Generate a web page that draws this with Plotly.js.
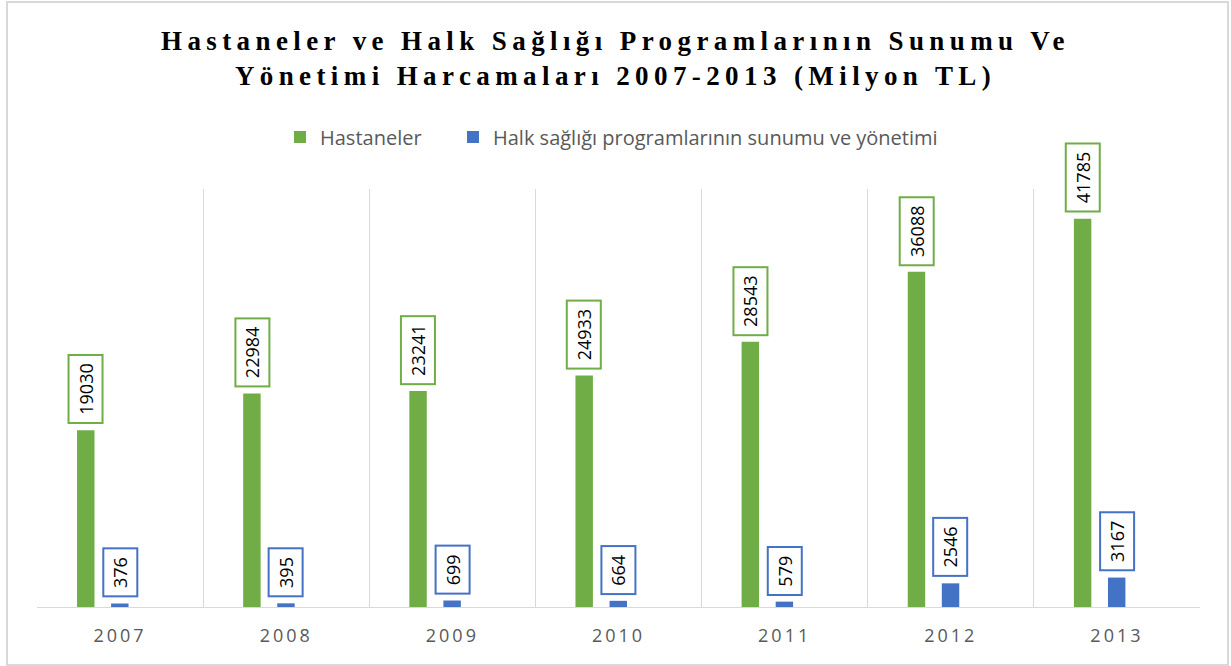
<!DOCTYPE html>
<html>
<head>
<meta charset="utf-8">
<script src="https://cdn.plot.ly/plotly-3.0.1.min.js"></script>
<style>
  html, body { margin: 0; padding: 0; background: #ffffff; }
  #wrap { position: relative; width: 1231px; height: 666px; overflow: hidden; }
  #chart { position: absolute; left: 0; top: 0; width: 1231px; height: 666px; }
  #frame { position: absolute; left: 6px; top: 1px; width: 1219px; height: 661px;
           border: 2px solid #d9d9d9; pointer-events: none; }
  .gtitle { letter-spacing: 5.4px; }
  .xtick text { letter-spacing: 3px; }
</style>
</head>
<body>
<div id="wrap">
  <div id="chart"></div>
  <div id="frame"></div>
</div>
<script>
// ---- data ----
const years = ['2007', '2008', '2009', '2010', '2011', '2012', '2013'];
const hastaneler = [19030, 22984, 23241, 24933, 28543, 36088, 41785];
const halkSagligi = [376, 395, 699, 664, 579, 2546, 3167];
const seriesNames = ['Hastaneler', 'Halk sağlığı programlarının sunumu ve yönetimi'];
const titleText = 'Hastaneler ve Halk Sağlığı Programlarının Sunumu Ve<br>Yönetimi Harcamaları 2007-2013 (Milyon TL)';

// ---- style ----
const GREEN = '#70AD47';
const BLUE = '#4472C4';
const BAR_W = 0.105;
const OFF_GREEN = -0.259;
const OFF_BLUE = -0.054;
const LABEL_FONT = { family: 'Open Sans, sans-serif', size: 18, color: '#000000' };
const LEGEND_FONT = { family: 'Open Sans, sans-serif', size: 20, color: '#595959' };

const traces = [
  { type: 'bar', name: seriesNames[0], x: years, y: hastaneler, legend: 'legend',
    marker: { color: GREEN }, width: BAR_W, offset: OFF_GREEN, hoverinfo: 'x+y' },
  { type: 'bar', name: seriesNames[1], x: years, y: halkSagligi, legend: 'legend2',
    marker: { color: BLUE }, width: BAR_W, offset: OFF_BLUE, hoverinfo: 'x+y' }
];

function labelAnnotations(values, offset, color) {
  return values.map((v, i) => {
    const txt = String(v);
    return {
      x: i + offset + BAR_W / 2, y: v, xref: 'x', yref: 'y',
      text: txt, showarrow: false, textangle: -90,
      xanchor: 'center', yanchor: 'bottom', yshift: 6,
      font: LABEL_FONT, bgcolor: '#ffffff', bordercolor: color, borderwidth: 2,
      borderpad: 3, width: txt.length * 10.2 + 9, height: 26
    };
  });
}

const annotations = [].concat(
  labelAnnotations(hastaneler, OFF_GREEN, GREEN),
  labelAnnotations(halkSagligi, OFF_BLUE, BLUE)
);

const legendY = 1 + (189 - 137) / 418;

const layout = {
  width: 1231, height: 666,
  margin: { l: 37, r: 31, t: 189, b: 59 },
  paper_bgcolor: '#ffffff', plot_bgcolor: '#ffffff',
  barmode: 'overlay',
  showlegend: true,
  title: {
    text: titleText,
    font: { family: 'Liberation Serif, Times New Roman, serif', size: 27, color: '#000000', weight: 'bold' },
    x: 0.5, xanchor: 'center', xref: 'container',
    y: 1 - 50 / 666, yanchor: 'top', yref: 'container'
  },
  legend: {
    orientation: 'h', x: (280 - 37) / 1163, xanchor: 'left', y: legendY, yanchor: 'middle',
    font: LEGEND_FONT, itemclick: false, itemdoubleclick: false
  },
  legend2: {
    orientation: 'h', x: (453 - 37) / 1163, xanchor: 'left', y: legendY, yanchor: 'middle',
    font: LEGEND_FONT, itemclick: false, itemdoubleclick: false
  },
  xaxis: {
    type: 'category', tickson: 'boundaries',
    showgrid: true, gridcolor: '#d9d9d9', gridwidth: 1,
    showline: true, linecolor: '#d9d9d9', linewidth: 1,
    ticks: '', ticklabelstandoff: 12,
    tickfont: { family: 'Open Sans, sans-serif', size: 18, color: '#595959' },
    fixedrange: true
  },
  yaxis: {
    range: [0, 45000], showgrid: false, zeroline: false, showline: false,
    showticklabels: false, ticks: '', fixedrange: true
  },
  annotations: annotations
};

Plotly.newPlot('chart', traces, layout, { displayModeBar: false, staticPlot: false });
</script>
</body>
</html>
